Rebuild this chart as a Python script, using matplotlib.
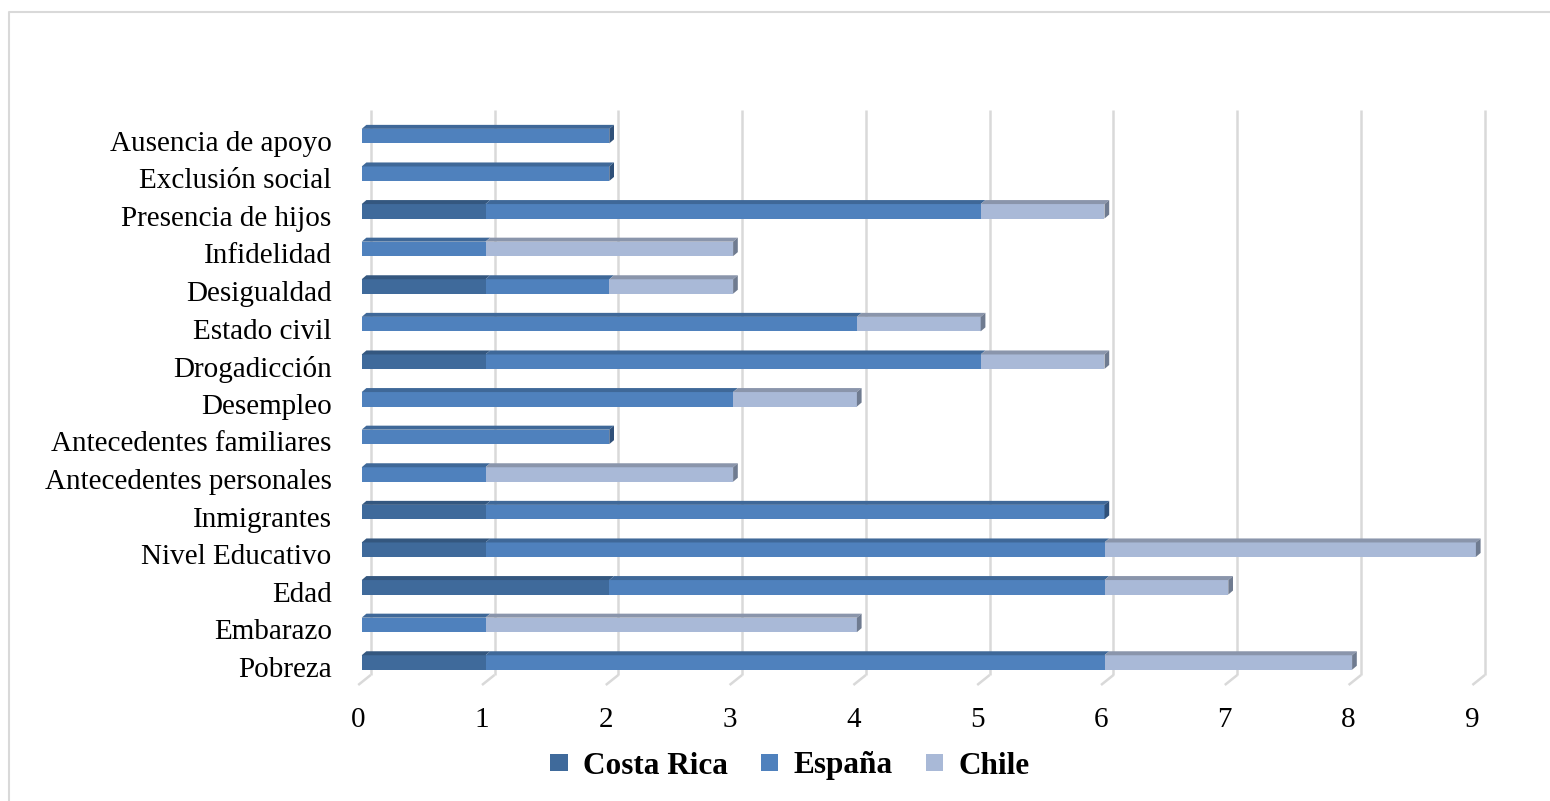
import numpy as np
import matplotlib.pyplot as plt
from matplotlib.patches import Polygon, Patch
from matplotlib.lines import Line2D

plt.rcParams['font.family'] = ['Liberation Serif', 'DejaVu Serif']

# categories from bottom to top
categories = ['Pobreza', 'Embarazo', 'Edad', 'Nivel Educativo', 'Inmigrantes',
              'Antecedentes personales', 'Antecedentes familiares', 'Desempleo',
              'Drogadicción', 'Estado civil', 'Desigualdad', 'Infidelidad',
              'Presencia de hijos', 'Exclusión social', 'Ausencia de apoyo']
costa_rica = [1, 0, 2, 1, 1, 0, 0, 0, 1, 0, 1, 0, 1, 0, 0]
espana     = [5, 1, 4, 5, 5, 1, 2, 3, 4, 4, 1, 1, 4, 2, 2]
chile      = [2, 3, 1, 3, 0, 2, 0, 1, 1, 1, 1, 2, 1, 0, 0]
series_names = ['Costa Rica', 'España', 'Chile']
xticks = list(range(10))

front = ['#3F6A9B', '#4F81BD', '#A9B9D7']
top = ['#34577F', '#3F6898', '#8A95AB']
side = ['#2C4A6E', '#2F5079', '#6F7B90']

W, H = 1550, 801
X0, SX = 361.7, 123.8   # pixel of value 0, pixels per unit
Y0, SY = 662.5, 37.6    # pixel of bottom category, pixels per category

fig = plt.figure(figsize=(W / 100, H / 100), dpi=100)
xlim = (-0.2, 9.3)
ylim = (-1.0, 15.0)
L = X0 + xlim[0] * SX
R = X0 + xlim[1] * SX
B = Y0 - ylim[0] * SY
T = Y0 - ylim[1] * SY
ax = fig.add_axes([L / W, (H - B) / H, (R - L) / W, (B - T) / H])
ax.set_xlim(*xlim)
ax.set_ylim(*ylim)
ax.axis('off')

# back wall grid and floor ticks
gx = 9 / SX
g_top = (Y0 - 110) / SY
g_bot = (Y0 - 675) / SY
g_floor = (Y0 - 685) / SY
for v in xticks:
    ax.plot([v + gx, v + gx], [g_top, g_bot], color='#D9D9D9', lw=1.8, zorder=0,
            solid_capstyle='butt')
    ax.plot([v + gx, v + gx - 12.5 / SX], [g_bot, g_floor], color='#D9D9D9', lw=1.8,
            zorder=0, solid_capstyle='butt')
    ax.text(v - 3.5 / SX, (Y0 - 720) / SY, str(v), ha='center', va='center', fontsize=21)

# 3D-looking stacked bars
h = 0.385
dx, dy = 4.7 / SX, 4.0 / SY
data = np.array([costa_rica, espana, chile], dtype=float)
for i in range(len(categories)):
    left = 0.0
    total = data[:, i].sum()
    for s in range(3):
        w = data[s, i]
        if w == 0:
            continue
        ax.barh(i, w, left=left, height=h, color=front[s], zorder=2)
        ax.add_patch(Polygon([(left, i + h / 2), (left + w, i + h / 2),
                              (left + w + dx, i + h / 2 + dy), (left + dx, i + h / 2 + dy)],
                             closed=True, facecolor=top[s], edgecolor='none', zorder=2))
        left += w
        if left == total:
            ax.add_patch(Polygon([(left, i - h / 2), (left, i + h / 2),
                                  (left + dx, i + h / 2 + dy), (left + dx, i - h / 2 + dy)],
                                 closed=True, facecolor=side[s], edgecolor='none', zorder=2))
    ax.text(-30 / SX, i - 0.2, categories[i], ha='right', va='center', fontsize=21)

handles = [Patch(facecolor=c, edgecolor='none') for c in front]
fig.legend(handles, series_names, loc='center', bbox_to_anchor=(790 / W, (H - 766) / H),
           ncol=3, frameon=False, prop={'weight': 'bold', 'size': 22.5},
           handlelength=0.55, handleheight=0.45, handletextpad=0.5, columnspacing=1.05)

# chart border
fig.add_artist(Line2D([8.5 / W, 8.5 / W, 1.0], [0, 1 - 12 / H, 1 - 12 / H],
                      transform=fig.transFigure, color='#D9D9D9', lw=1.5))

fig.savefig('out.png', dpi=100)
